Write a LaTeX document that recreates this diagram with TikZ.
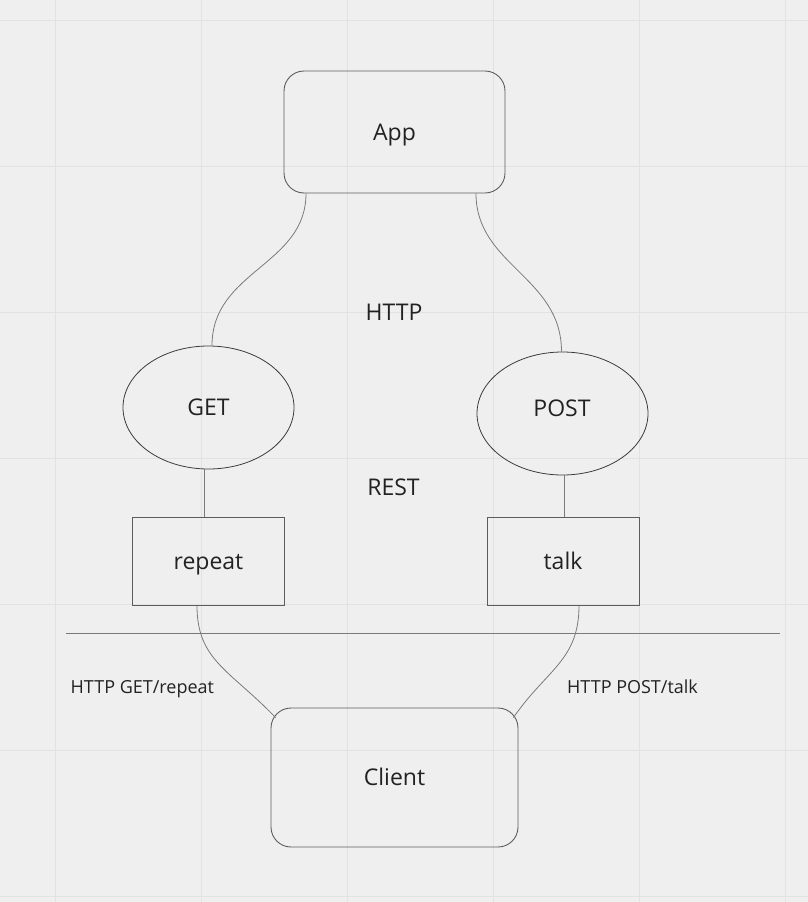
\documentclass[tikz,border=0pt]{standalone}
\usepackage{fontspec}
\setmainfont{Open Sans}
\usetikzlibrary{shapes.geometric}
\definecolor{bg}{HTML}{EFEFEF}
\definecolor{gridc}{HTML}{E2E2E2}
\definecolor{edgec}{HTML}{5C5C5C}
\definecolor{ellc}{HTML}{3A3A3A}
\definecolor{curvec}{HTML}{7A7A7A}
\definecolor{txt}{HTML}{222222}
\tikzset{
  bigfont/.style={font=\fontsize{23}{23}\selectfont, text=txt},
  smallfont/.style={font=\fontsize{18}{18}\selectfont, text=txt},
  roundbox/.style={draw=edgec, line width=0.9pt, rounded corners=20pt, inner sep=0pt, bigfont, text height=16pt, text depth=0pt},
  sqbox/.style={draw=edgec, line width=1pt, inner sep=0pt, bigfont, text height=16pt, text depth=0pt, minimum width=152pt, minimum height=88pt},
  ellip/.style={ellipse, draw=ellc, line width=0.8pt, inner sep=0pt, minimum width=171pt, minimum height=123pt, bigfont, text height=16pt, text depth=0pt},
  lbl/.style={bigfont, inner sep=0pt, anchor=base},
  smalllbl/.style={smallfont, inner sep=0pt, anchor=base west},
  conn/.style={draw=curvec, line width=0.8pt},
  gridline/.style={draw=gridc, line width=1pt}
}
\begin{document}
\begin{tikzpicture}[x=1pt,y=-1pt]
\fill[bg] (0,0) rectangle (808,902);
\useasboundingbox (0,0) rectangle (808,902);
\foreach \x in {55,201,347,493,639,785} \draw[gridline] (\x,0) -- (\x,902);
\foreach \y in {20,166,312,458,604,750,896} \draw[gridline] (0,\y) -- (808,\y);

\node[roundbox, minimum width=221pt, minimum height=122pt] (app) at (394.5,132) {App};
\node[ellip] (get) at (208.5,407.5) {GET};
\node[ellip] (post) at (562.5,413.5) {};
\node[lbl] (posttxt) at (562,416) {POST};
\node[sqbox] (repeat) at (208.5,561) {repeat};
\node[sqbox] (talk) at (563,561) {talk};
\node[roundbox, minimum width=247pt, minimum height=139pt] (client) at (394.5,777.5) {Client};

\node[lbl] (http) at (394,320) {HTTP};
\node[lbl] (rest) at (393.5,495) {REST};
\node[smalllbl] (lget) at (70.5,693) {HTTP GET/repeat};
\node[smalllbl] (lpost) at (567,693) {HTTP POST/talk};

\coordinate (sepl) at (66,633);
\coordinate (sepr) at (780,633);
\draw[draw=curvec, line width=1pt] (sepl) -- (sepr);

\draw[conn] ([xshift=-88.5pt]app.south) .. controls +(0,72) and +(0,-75) .. ([xshift=3.5pt]get.north);
\draw[conn] ([xshift=81.5pt]app.south) .. controls +(0,72) and +(0,-75) .. ([xshift=-1pt]post.north);
\draw[conn] ([xshift=-4pt]get.south) -- ([xshift=-4pt]repeat.north);
\draw[conn] ([xshift=1.5pt]post.south) -- ([xshift=1pt]talk.north);
\draw[conn] ([xshift=-11.5pt]repeat.south) .. controls +(0,55) and +(-46,-48) .. ([xshift=5pt,yshift=-10pt]client.north west);
\draw[conn] ([xshift=16pt]talk.south) .. controls +(0,55) and +(33,-48) .. ([xshift=-5pt,yshift=-10pt]client.north east);
\end{tikzpicture}
\end{document}
